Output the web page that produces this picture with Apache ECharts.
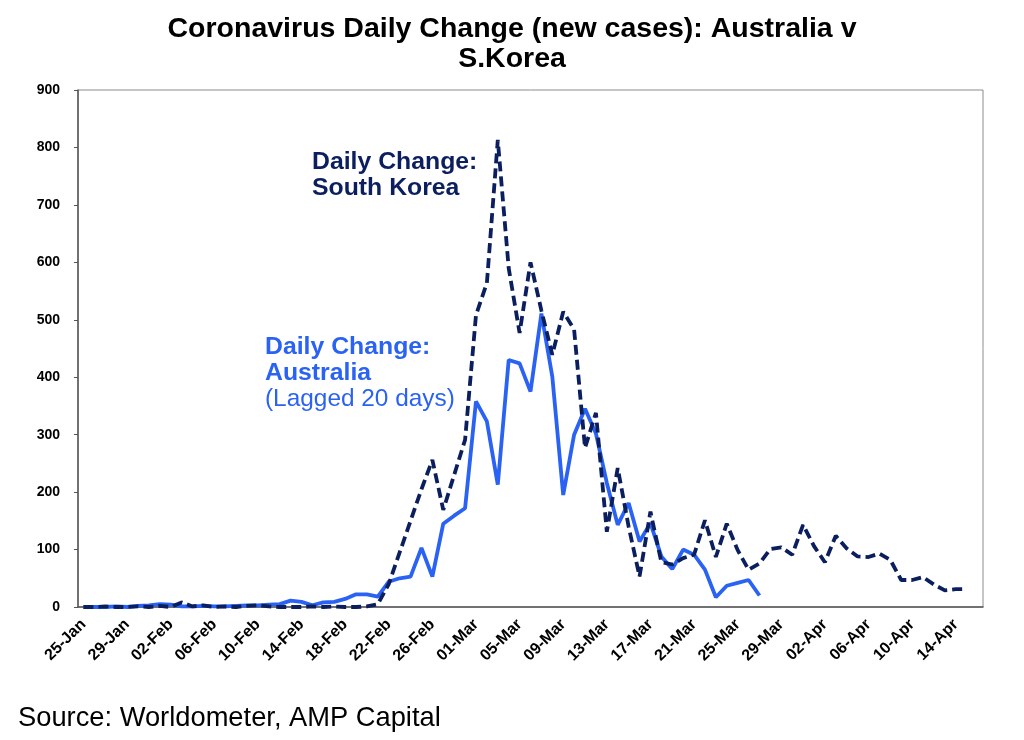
<!DOCTYPE html>
<html>
<head>
<meta charset="utf-8">
<script src="https://cdn.jsdelivr.net/npm/echarts@6/dist/echarts.min.js"></script>
<style>
html,body{margin:0;padding:0;background:#fff;}
#chart{width:1024px;height:740px;}
</style>
</head>
<body>
<div id="chart"></div>
<script>
var categories = [
 '25-Jan','26-Jan','27-Jan','28-Jan','29-Jan','30-Jan','31-Jan',
 '01-Feb','02-Feb','03-Feb','04-Feb','05-Feb','06-Feb','07-Feb','08-Feb','09-Feb','10-Feb',
 '11-Feb','12-Feb','13-Feb','14-Feb','15-Feb','16-Feb','17-Feb','18-Feb','19-Feb','20-Feb',
 '21-Feb','22-Feb','23-Feb','24-Feb','25-Feb','26-Feb','27-Feb','28-Feb','29-Feb',
 '01-Mar','02-Mar','03-Mar','04-Mar','05-Mar','06-Mar','07-Mar','08-Mar','09-Mar','10-Mar',
 '11-Mar','12-Mar','13-Mar','14-Mar','15-Mar','16-Mar','17-Mar','18-Mar','19-Mar','20-Mar',
 '21-Mar','22-Mar','23-Mar','24-Mar','25-Mar','26-Mar','27-Mar','28-Mar','29-Mar','30-Mar','31-Mar',
 '01-Apr','02-Apr','03-Apr','04-Apr','05-Apr','06-Apr','07-Apr','08-Apr','09-Apr','10-Apr',
 '11-Apr','12-Apr','13-Apr','14-Apr','15-Apr','16-Apr'
];

// Australia daily new cases (lagged 20 days)
var australia = [
 0,0,0,1,0,2,3,5,4,1,
 1,2,1,1,2,3,3,4,5,11,
 9,3,8,9,14,22,22,18,44,50,
 53,103,53,145,159,172,358,323,213,430,
 424,375,511,401,195,300,345,302,216,143,
 181,114,146,88,66,100,91,65,17,37,
 42,47,20
];

// South Korea daily new cases
var southKorea = [
 0,0,1,0,0,1,0,2,0,8,
 1,3,0,1,0,2,3,1,0,0,
 0,1,0,1,0,0,1,5,40,95,
 150,205,256,169,230,291,508,564,813,590,
 477,600,516,439,514,483,277,338,131,242,
 140,53,166,78,74,85,91,151,87,145,
 99,65,76,101,104,91,143,106,78,124,
 102,88,87,93,82,47,47,52,39,29,
 31,31
];

var yTicks = {min: 0, max: 900, interval: 100};

var SK_COLOR = '#0b1f5e';
var AU_COLOR = '#2a62f4';
var FONT = '"Liberation Sans", Arial, sans-serif';

var chart = echarts.init(document.getElementById('chart'), null, {renderer: 'canvas'});
chart.setOption({
  backgroundColor: '#ffffff',
  animation: false,
  title: {
    text: 'Coronavirus Daily Change (new cases): Australia v\nS.Korea',
    left: 'center',
    top: 9,
    textStyle: {fontFamily: FONT, fontWeight: 'bold', fontSize: 28.5, lineHeight: 30, color: '#000'}
  },
  grid: {left: 78, right: 41, top: 90, bottom: 133, show: true, borderColor: '#8c8c8c', borderWidth: 1},
  xAxis: {
    type: 'category',
    data: categories,
    boundaryGap: true,
    axisLine: {lineStyle: {color: '#555', width: 1.5}},
    axisTick: {interval: 3, length: 5, lineStyle: {color: '#555'}},
    axisLabel: {interval: 3, rotate: 45, fontFamily: FONT, fontWeight: 'bold', fontSize: 16, color: '#000', margin: 15},
    splitLine: {show: false}
  },
  yAxis: {
    type: 'value',
    min: yTicks.min, max: yTicks.max, interval: yTicks.interval,
    axisLine: {show: true, lineStyle: {color: '#555', width: 1.5}},
    axisTick: {show: true, length: 4, lineStyle: {color: '#555'}},
    axisLabel: {fontFamily: FONT, fontWeight: 'bold', fontSize: 14, color: '#000', margin: 18},
    splitLine: {show: false}
  },
  series: [
    {
      name: 'Daily Change: Australia (Lagged 20 days)',
      type: 'line',
      data: australia,
      showSymbol: false,
      lineStyle: {color: AU_COLOR, width: 3.8},
      itemStyle: {color: AU_COLOR},
      z: 2
    },
    {
      name: 'Daily Change: South Korea',
      type: 'line',
      data: southKorea,
      showSymbol: false,
      lineStyle: {color: SK_COLOR, width: 3.8, type: [10, 5]},
      itemStyle: {color: SK_COLOR},
      z: 3
    }
  ],
  graphic: [
    {type: 'text', left: 312, top: 149, style: {text: 'Daily Change:\nSouth Korea', fill: SK_COLOR, font: 'bold 24.8px ' + FONT, lineHeight: 26}},
    {type: 'text', left: 265, top: 334, style: {text: 'Daily Change:\nAustralia', fill: AU_COLOR, font: 'bold 24.8px ' + FONT, lineHeight: 26}},
    {type: 'text', left: 265, top: 386, style: {text: '(Lagged 20 days)', fill: AU_COLOR, font: '24.4px ' + FONT, lineHeight: 26}},
    {type: 'text', left: 18, top: 705, style: {text: 'Source: Worldometer, AMP Capital', fill: '#000', font: '27.3px ' + FONT}}
  ]
});
</script>
</body>
</html>
